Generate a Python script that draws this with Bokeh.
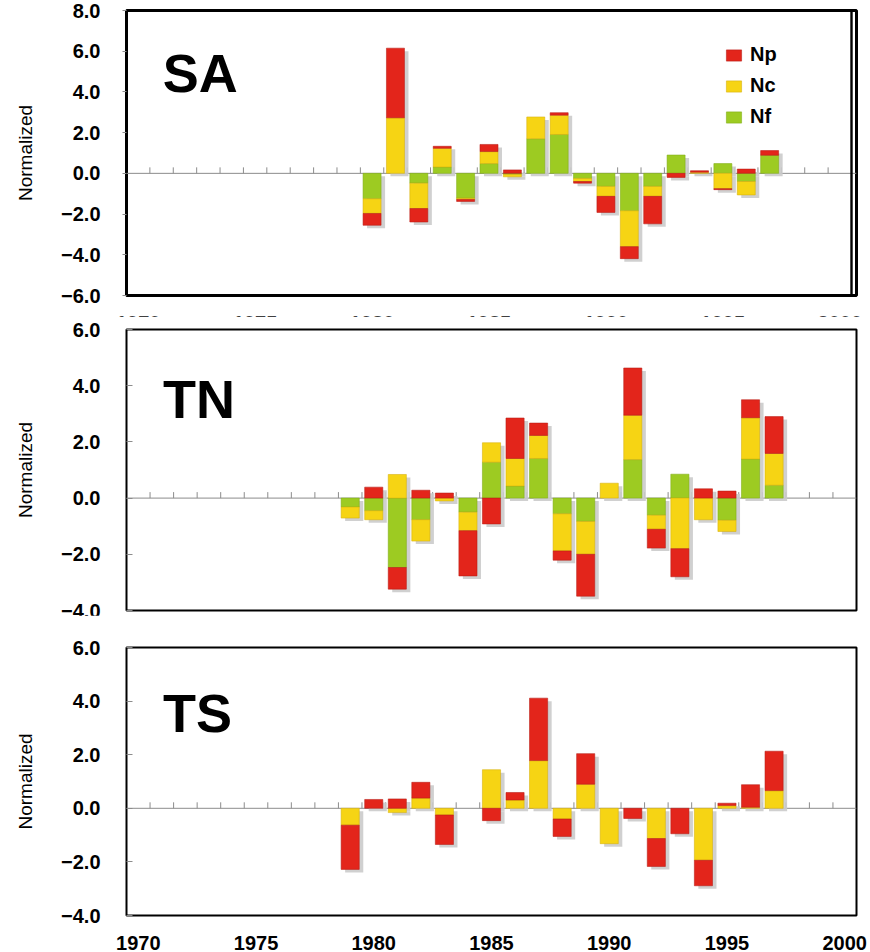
import numpy as np
from bokeh.plotting import figure
from bokeh.layouts import column
from bokeh.models import (Span, Label, Legend, LegendItem, FixedTicker,
                          CustomJSTickFormatter, Range1d)
from bokeh.embed import file_html
from bokeh.resources import INLINE

FONT = "Liberation Sans"

# Year categories on the shared time axis
first_year = 1970
last_year = 2000
label_years = [1970, 1975, 1980, 1985, 1990, 1995, 2000]

# SA region: normalized components
years_sa = [1980, 1981, 1982, 1983, 1984, 1985, 1986, 1987, 1988,
            1989, 1990, 1991, 1992, 1993, 1994, 1995, 1996, 1997]
sa_nf = [-1.25, 0.00, -0.48, 0.31, -1.22, 0.48, -0.05, 1.70, 1.91,
         -0.25, -0.64, -1.84, -0.64, 0.90, 0.00, 0.48, -0.40, 0.89]
sa_nc = [-0.72, 2.73, -1.25, 0.92, -0.06, 0.59, -0.12, 1.07, 0.95,
         -0.15, -0.49, -1.76, -0.49, 0.00, 0.06, -0.75, -0.66, 0.00]
sa_np = [-0.58, 3.42, -0.66, 0.10, -0.10, 0.35, 0.17, 0.00, 0.12,
         -0.08, -0.79, -0.59, -1.35, -0.20, 0.07, -0.05, 0.21, 0.23]

# TN region
years_tn = [1979, 1980, 1981, 1982, 1983, 1984, 1985, 1986, 1987, 1988,
            1989, 1990, 1991, 1992, 1993, 1994, 1995, 1996, 1997]
tn_nf = [-0.32, -0.45, -2.47, -0.77, 0.00, -0.50, 1.28, 0.43, 1.41, -0.56,
         -0.83, 0.00, 1.37, -0.61, 0.85, 0.00, -0.79, 1.39, 0.46]
tn_nc = [-0.39, -0.32, 0.84, -0.76, -0.10, -0.66, 0.69, 0.98, 0.82, -1.32,
         -1.17, 0.53, 1.58, -0.50, -1.80, -0.77, -0.40, 1.47, 1.13]
tn_np = [0.00, 0.39, -0.77, 0.28, 0.18, -1.61, -0.92, 1.44, 0.44, -0.33,
         -1.49, 0.00, 1.68, -0.67, -1.00, 0.33, 0.25, 0.64, 1.31]

# TS region (no Nf component)
years_ts = [1979, 1980, 1981, 1982, 1983, 1984, 1985, 1986, 1987, 1988,
            1989, 1990, 1991, 1992, 1993, 1994, 1995, 1996, 1997]
ts_nc = [-0.63, 0.00, -0.16, 0.38, -0.25, 0.00, 1.44, 0.31, 1.78, -0.40,
         0.90, -1.32, 0.00, -1.13, 0.00, -1.94, 0.10, 0.04, 0.66]
ts_np = [-1.65, 0.33, 0.35, 0.59, -1.10, 0.00, -0.46, 0.28, 2.33, -0.65,
         1.14, 0.00, -0.38, -1.04, -0.95, -0.95, 0.09, 0.84, 1.47]

FILL = {"Np": "#e3251b", "Nc": "#f6d414", "Nf": "#9dcb22"}
EDGE = {"Np": "#b71c15", "Nc": "#d6b00c", "Nf": "#80ad16"}
SHADOW = "#cbcbcb"
AXIS_GRAY = "#8c8c8c"
WIDTH = 870
BAR_W = 0.77

y_fmt = CustomJSTickFormatter(
    code="return (tick < 0 ? '\\u2212' : '') + Math.abs(tick).toFixed(1);")
x_fmt = CustomJSTickFormatter(code="return tick.toFixed(0);")


def stack(order):
    """Stack series outward from zero; positives up, negatives down."""
    n = len(order[0][1])
    pos = np.zeros(n)
    neg = np.zeros(n)
    out = []
    for name, vals in order:
        v = np.asarray(vals, dtype=float)
        base = np.where(v >= 0, pos, neg)
        out.append((name, base, base + v, v != 0))
        pos = pos + np.where(v >= 0, v, 0.0)
        neg = neg + np.where(v < 0, v, 0.0)
    return out, pos, neg


def panel(tag, years, order, y_lo, y_hi, height, b_top, b_bottom,
          b_left=124, b_right=14, extra_right=0, outline=2.0,
          tick_in=6, tick_out=0, show_x=True, margin=0, tag_y=0.0,
          x_standoff=14, with_legend=False):
    frame_w = WIDTH - b_left - b_right
    frame_h = height - b_top - b_bottom
    px_year = (frame_w - extra_right) / (last_year - first_year + 1)
    px_unit = frame_h / (y_hi - y_lo)
    x_end = last_year + 0.5

    p = figure(width=WIDTH, height=height, output_backend="svg",
               toolbar_location=None,
               x_range=Range1d(first_year - 0.5, x_end + extra_right / px_year),
               y_range=Range1d(y_lo, y_hi),
               min_border_top=b_top, min_border_bottom=b_bottom,
               min_border_left=b_left, min_border_right=b_right,
               margin=margin)
    p.xgrid.visible = False
    p.ygrid.visible = False
    p.outline_line_color = "black"
    p.outline_line_width = outline
    p.background_fill_color = "white"
    p.border_fill_color = "white"

    # y axis
    yax = p.yaxis[0]
    yax.ticker = FixedTicker(ticks=list(np.arange(y_lo, y_hi + 0.1, 2.0)))
    yax.formatter = y_fmt
    yax.axis_line_color = None
    yax.major_tick_line_color = AXIS_GRAY
    yax.major_tick_in = tick_in
    yax.major_tick_out = tick_out
    yax.minor_tick_line_color = None
    yax.major_label_text_font = FONT
    yax.major_label_text_font_size = "20px"
    yax.major_label_text_font_style = "bold"
    yax.major_label_text_color = "black"
    yax.major_label_standoff = 26 - tick_out
    yax.axis_label = "Normalized"
    yax.axis_label_text_font = FONT
    yax.axis_label_text_font_size = "19px"
    yax.axis_label_text_font_style = "normal"
    yax.axis_label_text_color = "black"
    yax.axis_label_standoff = 22

    # x axis (labels at the bottom of the frame)
    xax = p.xaxis[0]
    if show_x:
        xax.ticker = FixedTicker(ticks=label_years)
        xax.formatter = x_fmt
        xax.axis_line_color = None
        xax.major_tick_line_color = None
        xax.minor_tick_line_color = None
        xax.major_label_text_font = FONT
        xax.major_label_text_font_size = "20px"
        xax.major_label_text_font_style = "bold"
        xax.major_label_text_color = "black"
        xax.major_label_standoff = x_standoff
    else:
        xax.visible = False

    # zero line with year-boundary ticks
    p.add_layout(Span(location=0, dimension="width", line_color=AXIS_GRAY,
                      line_width=1, level="underlay"))
    bounds = np.arange(first_year + 0.5, last_year, 1.0)
    p.ray(x=bounds, y=np.zeros(len(bounds)), length=6, length_units="screen",
          angle=np.pi / 2, line_color=AXIS_GRAY, line_width=1)

    stacked, pos_tot, neg_tot = stack(order)
    xs = np.asarray(years, dtype=float)

    # drop shadows (offset right and down)
    dx = 4.0 / px_year
    dy = 3.0 / px_unit
    for tot in (pos_tot, neg_tot):
        keep = tot != 0
        p.vbar(x=xs[keep] + dx, width=BAR_W, bottom=-dy, top=tot[keep] - dy,
               fill_color=SHADOW, line_color=None, fill_alpha=0.9)

    renderers = {}
    for name, bottom, top, keep in stacked:
        r = p.vbar(x=xs[keep], width=BAR_W, bottom=bottom[keep], top=top[keep],
                   fill_color=FILL[name], line_color=EDGE[name],
                   line_width=0.8, line_alpha=0.7)
        renderers[name] = r

    if extra_right:
        p.add_layout(Span(location=x_end, dimension="height",
                          line_color="black", line_width=outline * 0.8))

    p.add_layout(Label(x=first_year + 1.05, y=tag_y, text=tag,
                       text_font=FONT, text_font_size="54px",
                       text_font_style="bold", text_color="black",
                       text_baseline="alphabetic"))

    if with_legend:
        items = [LegendItem(label=n, renderers=[renderers[n]])
                 for n in ("Np", "Nc", "Nf")]
        lg = Legend(items=items, location=(598, 167), orientation="vertical",
                    glyph_width=19, glyph_height=14, label_height=20,
                    label_standoff=7, spacing=8, padding=10, margin=0,
                    border_line_color=None, background_fill_alpha=0.0,
                    label_text_font=FONT, label_text_font_size="20px",
                    label_text_font_style="bold", label_text_color="black")
        p.add_layout(lg)
    return p


p_sa = panel("SA", years_sa, [("Nf", sa_nf), ("Nc", sa_nc), ("Np", sa_np)],
             -6, 8, height=335, b_top=10, b_bottom=40, b_left=126,
             extra_right=5, outline=3.0, tick_in=0, tick_out=4,
             tag_y=4.95, x_standoff=14, with_legend=True)
p_tn = panel("TN", years_tn, [("Nf", tn_nf), ("Nc", tn_nc), ("Np", tn_np)],
             -4, 6, height=334, b_top=13, b_bottom=40, show_x=False,
             margin=(-19, 0, 0, 0), tag_y=3.54)
p_ts = panel("TS", years_ts, [("Nc", ts_nc), ("Np", ts_np)],
             -4, 6, height=337, b_top=32, b_bottom=37,
             margin=(-35, 0, 0, 0), tag_y=3.57)

layout = column(p_sa, p_tn, p_ts, spacing=0)

open("out.html", "w").write(file_html(layout, INLINE, title="Normalized components"))
